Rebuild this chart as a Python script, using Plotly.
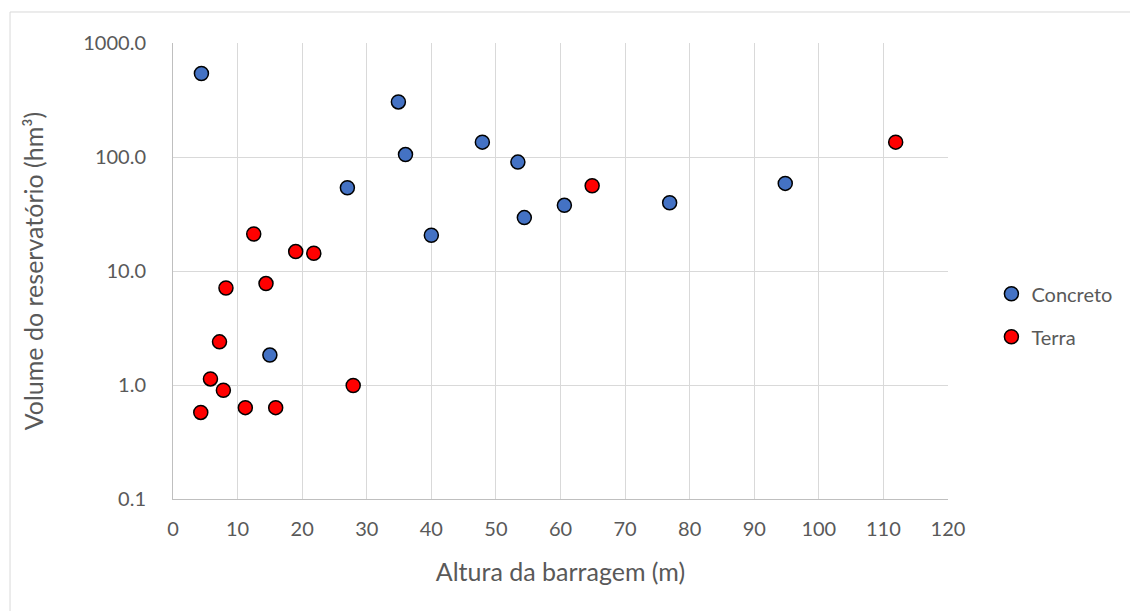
import plotly.graph_objects as go

# Concreto (blue)
concreto_altura = [4.4, 34.9, 36.0, 27.0, 40.0, 47.9, 53.4, 54.4, 60.6, 76.9, 94.8, 15.0]
concreto_volume = [540, 304, 105, 53.7, 20.6, 135, 90.2, 29.4, 37.7, 39.7, 58.7, 1.83]

# Terra (red)
terra_altura = [12.5, 19.0, 21.8, 8.2, 14.4, 7.2, 5.8, 7.8, 27.9, 4.3, 11.2, 15.9, 64.9, 111.9]
terra_volume = [21.1, 14.8, 14.3, 7.1, 7.76, 2.39, 1.13, 0.90, 0.99, 0.575, 0.633, 0.633, 56, 135]

y_tickvals = [0.1, 1, 10, 100, 1000]
y_ticktext = ["0.1", "1.0", "10.0", "100.0", "1000.0"]

FONT = "Lato"
GREY = "#595959"

fig = go.Figure()
fig.add_trace(go.Scatter(
    x=concreto_altura, y=concreto_volume, mode="markers", name="Concreto",
    legendgroup="a",
    marker=dict(size=14, color="#4472C4", line=dict(color="black", width=1.5)),
))
fig.add_trace(go.Scatter(
    x=terra_altura, y=terra_volume, mode="markers", name="Terra",
    legendgroup="b",
    marker=dict(size=14, color="#FF0000", line=dict(color="black", width=1.5)),
))

fig.update_layout(
    width=1130, height=611,
    margin=dict(l=173, r=182, t=43, b=112, autoexpand=False),
    paper_bgcolor="white", plot_bgcolor="white",
    font=dict(family=FONT, color=GREY, size=20),
    legend=dict(x=1.056, y=0.403, xanchor="left", yanchor="middle",
                font=dict(size=20, color=GREY), tracegroupgap=14,
                traceorder="grouped"),
    shapes=[dict(type="rect", xref="paper", yref="paper",
                 x0=-0.2103, x1=1.4, y0=-0.4, y1=1.068,
                 line=dict(color="#d9d9d9", width=1), layer="below")],
)
fig.update_xaxes(
    range=[0, 120], dtick=10, tick0=0,
    showgrid=True, gridcolor="#d9d9d9", gridwidth=1,
    showline=True, linecolor="#bfbfbf", linewidth=1,
    zeroline=False, ticks="", ticklabelstandoff=12,
    tickfont=dict(size=20, color=GREY),
    title=dict(text="Altura da barragem (m)", font=dict(size=25, color=GREY), standoff=24),
)
fig.update_yaxes(
    type="log", range=[-1, 3],
    tickvals=y_tickvals, ticktext=y_ticktext,
    showgrid=True, gridcolor="#d9d9d9", gridwidth=1,
    showline=True, linecolor="#bfbfbf", linewidth=1,
    zeroline=False, ticks="", ticklabelstandoff=22,
    tickfont=dict(size=20, color=GREY),
    title=dict(text="Volume do reservatório (hm³)", font=dict(size=25, color=GREY), standoff=32),
)

fig.write_html("out.html")
